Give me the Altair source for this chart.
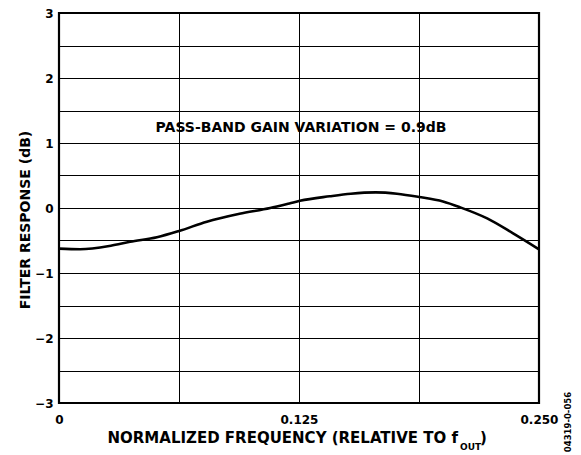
import altair as alt
import pandas as pd

freq = [0, 0.011, 0.027, 0.037, 0.051, 0.0625, 0.077, 0.094, 0.110, 0.120, 0.1255,
        0.141, 0.152, 0.165, 0.176, 0.1875, 0.200, 0.209, 0.223, 0.2365, 0.25]
resp = [-0.625, -0.635, -0.58, -0.52, -0.45, -0.354, -0.21, -0.09, 0.0, 0.07, 0.11,
        0.18, 0.22, 0.24, 0.22, 0.17, 0.10, 0.01, -0.16, -0.39, -0.635]

x_grid = [0, 0.0625, 0.125, 0.1875, 0.25]
y_grid = [-3, -2.5, -2, -1.5, -1, -0.5, 0, 0.5, 1, 1.5, 2, 2.5, 3]

annotation = "PASS-BAND GAIN VARIATION = 0.9dB"
x_title_main = "NORMALIZED FREQUENCY (RELATIVE TO f"
x_title_sub = "OUT"
x_title_end = ")"
y_title = "FILTER RESPONSE (dB)"
code = "04319-0-056"

FONT = "DejaVu Sans"
df = pd.DataFrame({"freq": freq, "resp": resp})

xs = alt.Scale(domain=[0, 0.25], nice=False, zero=False)
ys = alt.Scale(domain=[-3, 3], nice=False, zero=False)

x_axis = alt.Axis(values=x_grid, grid=True, gridColor="black", gridWidth=1, gridOpacity=1,
                  ticks=False, domain=False, title=None,
                  labelExpr="datum.value == 0 ? '0' : (datum.value == 0.125 || datum.value == 0.25 ? format(datum.value, '.3f') : '')",
                  labelFont=FONT, labelFontSize=12, labelFontWeight="bold", labelColor="black",
                  labelPadding=11, labelFlush=False)
y_axis = alt.Axis(values=y_grid, grid=True, gridColor="black", gridWidth=1, gridOpacity=1,
                  ticks=False, domain=False, title=None,
                  labelExpr="datum.value % 1 == 0 ? replace(format(datum.value, 'd'), '-', '\u2212') : ''",
                  labelFont=FONT, labelFontSize=12, labelFontWeight="bold", labelColor="black",
                  labelPadding=6)

line = alt.Chart(df).mark_line(color="black", strokeWidth=2.6, interpolate="monotone").encode(
    x=alt.X("freq:Q", scale=xs, axis=x_axis),
    y=alt.Y("resp:Q", scale=ys, axis=y_axis),
)

def txt(text, x, y, size=13, align="center", angle=0, baseline="middle"):
    return alt.Chart(pd.DataFrame({"t": [text]})).mark_text(
        font=FONT, fontSize=size, fontWeight="bold", color="black",
        align=align, baseline=baseline, angle=angle
    ).encode(x=alt.value(x), y=alt.value(y), text="t:N")

layers = [
    line,
    txt(annotation, 242, 115, size=14),
    txt(x_title_main, 399, 425, size=15, align="right"),
    txt(x_title_sub, 401, 434, size=9, align="left"),
    txt(x_title_end, 421, 425, size=15, align="left"),
    txt(y_title, -33, 207, size=14, angle=270),
    txt(code, 509, 409, size=8.5, angle=270),
]

chart = alt.layer(*layers).properties(
    width=480, height=390,
    autosize=alt.AutoSizeParams(type="none"),
    padding={"left": 51, "top": 5, "right": 34, "bottom": 50},
).configure_view(stroke="black", strokeWidth=2.2)

chart.save("out.html", embed_options={"renderer": "svg", "actions": False})
